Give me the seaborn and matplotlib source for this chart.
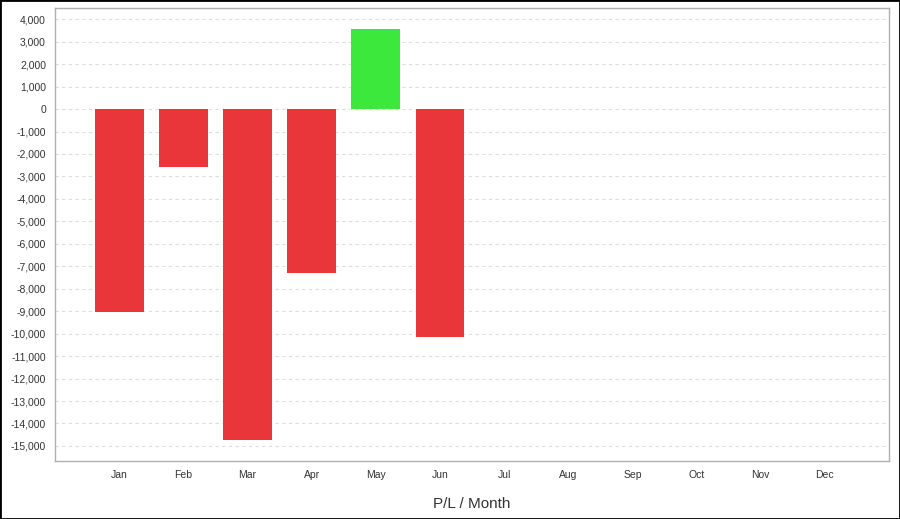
import matplotlib
matplotlib.use("Agg")
import matplotlib.pyplot as plt
import matplotlib.ticker as mticker
from matplotlib.patches import Rectangle
import seaborn as sns
import pandas as pd
import numpy as np

# P/L per month; no bars after June
months = ["Jan", "Feb", "Mar", "Apr", "May", "Jun", "Jul", "Aug", "Sep", "Oct", "Nov", "Dec"]
pl_values = [-9050, -2600, -14750, -7300, 3580, -10150,
             np.nan, np.nan, np.nan, np.nan, np.nan, np.nan]

df = pd.DataFrame({"month": months, "pl": pl_values})
df["sign"] = ["gain" if v > 0 else "loss" for v in df["pl"]]

sns.set_style("white")
plt.rcParams["font.family"] = ["Liberation Sans", "DejaVu Sans"]

fig = plt.figure(figsize=(9, 5.19), dpi=100)
ax = fig.add_axes([0.0611, 0.1118, 0.9267, 0.8728])

sns.barplot(data=df, x="month", y="pl", hue="sign",
            palette={"loss": "#e8363b", "gain": "#3be83b"},
            order=months, width=0.76, dodge=False, legend=False,
            saturation=1, linewidth=0, ax=ax)

ax.set_xlim(-1, 12)
ax.set_ylim(-15670, 4500)
ax.yaxis.set_major_locator(mticker.MultipleLocator(1000))
ax.yaxis.set_major_formatter(mticker.FuncFormatter(lambda v, p: f"{int(v):,}"))
ax.grid(axis="y", color="#dddddd", linestyle=(0, (3, 3)), linewidth=0.8)
ax.set_axisbelow(True)

for s in ax.spines.values():
    s.set_color("#b0b0b0")
    s.set_linewidth(1)

ax.tick_params(axis="both", labelsize=7.5, colors="#333333", length=3, width=0.8)
ax.tick_params(axis="both", color="#999999")
ax.set_ylabel("")
ax.set_xlabel("P/L / Month", fontsize=11, color="#333333", labelpad=12)

fig.patches.append(Rectangle((0, 0), 1, 1, transform=fig.transFigure,
                             fill=False, edgecolor="black", linewidth=2))

fig.savefig("out.png", dpi=100)
